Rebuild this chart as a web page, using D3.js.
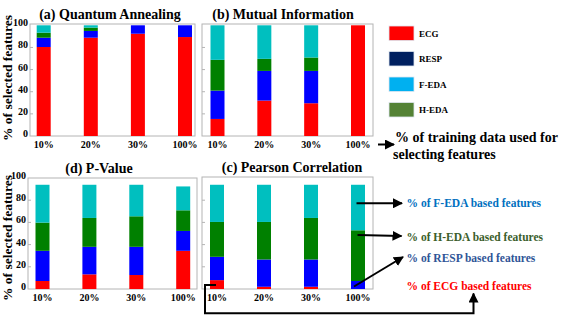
<!DOCTYPE html>
<html>
<head>
<meta charset="utf-8">
<script src="https://cdn.jsdelivr.net/npm/d3@7"></script>
<style>
  body { margin: 0; background: #fff; }
  svg { display: block; font-family: "Liberation Serif", "Times New Roman", serif; font-weight: bold; }
</style>
</head>
<body>
<div id="chart"></div>
<script>
// training data fractions (x categories)
const categories = ["10%", "20%", "30%", "100%"];
const yTicks = [0, 20, 40, 60, 80, 100];

// series order, bottom to top of each stack
const seriesNames = ["ECG", "RESP", "H-EDA", "F-EDA"];

// (a) Quantum Annealing
const qaECG  = [80.4, 88.8, 92.4, 89.4];
const qaRESP = [8.4, 6.1, 7.6, 10.6];
const qaHEDA = [4.5, 3.0, 0, 0];
const qaFEDA = [6.7, 2.1, 0, 0];

// (b) Mutual Information
const miECG  = [15.4, 32.0, 29.6, 100];
const miRESP = [25.6, 26.8, 29.2, 0];
const miHEDA = [27.8, 10.9, 12.1, 0];
const miFEDA = [31.2, 30.3, 29.1, 0];

// (d) P-Value
const pvECG  = [7.2, 13.2, 12.6, 34.4];
const pvRESP = [27.2, 24.8, 25.4, 17.9];
const pvHEDA = [25.4, 26.0, 27.5, 18.6];
const pvFEDA = [34.1, 29.9, 28.4, 21.5];

// (c) Pearson Correlation
const pcECG  = [8.0, 2.0, 2.0, 0];
const pcRESP = [21.0, 24.6, 24.6, 7.2];
const pcHEDA = [31.4, 33.8, 37.4, 45.7];
const pcFEDA = [33.5, 33.5, 29.9, 41.0];

// legend
const legendNames = ["ECG", "RESP", "F-EDA", "H-EDA"];
const legendColors = ["#ff0000", "#002060", "#00b0f0", "#548235"];

// bar colours (same order as seriesNames)
const barColors = ["#ff0000", "#0000ff", "#008000", "#00bfbf"];

function makeRows(ecg, resp, heda, feda) {
  return categories.map((c, i) => ({cat: c, "ECG": ecg[i], "RESP": resp[i], "H-EDA": heda[i], "F-EDA": feda[i]}));
}

// panel layout: frame box, first/last bar centre, axis labels on/off
const panels = [
  {title: "(a) Quantum Annealing", rows: makeRows(qaECG, qaRESP, qaHEDA, qaFEDA),
   x0: 30, x1: 195, y0: 24, y1: 136, yTop: 25.3, c0: 43.7, c1: 185, tx: 110, ty: 78, labels: true},
  {title: "(b) Mutual Information", rows: makeRows(miECG, miRESP, miHEDA, miFEDA),
   x0: 202, x1: 373, y0: 24, y1: 136, yTop: 25.3, c0: 217.5, c1: 358, tx: 283, labels: false},
  {title: "(d) P-Value", rows: makeRows(pvECG, pvRESP, pvHEDA, pvFEDA),
   x0: 28, x1: 197, y0: 178, y1: 289, yTop: 178, c0: 42.5, c1: 183.2, tx: 99, ty: 238, labels: true},
  {title: "(c) Pearson Correlation", rows: makeRows(pcECG, pcRESP, pcHEDA, pcFEDA),
   x0: 202, x1: 373, y0: 177, y1: 289, yTop: 178, c0: 217, c1: 358, tx: 292, labels: false}
];

const W = 561, H = 315;
const svg = d3.select("#chart").append("svg")
  .attr("width", W).attr("height", H);

// arrow marker
svg.append("defs").append("marker")
  .attr("id", "arr")
  .attr("viewBox", "0 0 10 10")
  .attr("refX", 9).attr("refY", 5)
  .attr("markerWidth", 5).attr("markerHeight", 5)
  .attr("orient", "auto-start-reverse")
  .append("path").attr("d", "M0,0L10,5L0,10z").attr("fill", "#000");

const stack = d3.stack().keys(seriesNames);

panels.forEach(p => {
  const x = d3.scalePoint().domain(categories).range([p.c0, p.c1]);
  const y = d3.scaleLinear().domain([0, 100]).range([p.y1, p.yTop]);
  const g = svg.append("g");

  // frame
  g.append("rect")
    .attr("x", p.x0).attr("y", p.y0)
    .attr("width", p.x1 - p.x0).attr("height", p.y1 - p.y0)
    .attr("fill", "none").attr("stroke", "#b4b4b4").attr("stroke-width", 1);

  // small inner ticks
  g.selectAll(".tk").data(yTicks.slice(1, -1)).enter().append("line")
    .attr("x1", p.x0).attr("x2", p.x0 + 3)
    .attr("y1", d => y(d)).attr("y2", d => y(d))
    .attr("stroke", "#b4b4b4");

  // stacked bars
  const layers = stack(p.rows);
  layers.forEach((layer, li) => {
    g.selectAll(".b" + li).data(layer).enter().append("rect")
      .attr("x", d => x(d.data.cat) - 7)
      .attr("width", 14)
      .attr("y", d => y(d[1]))
      .attr("height", d => Math.max(0, y(d[0]) - y(d[1])))
      .attr("fill", barColors[li]);
  });

  // title
  g.append("text")
    .attr("x", p.tx).attr("y", p.y0 - 5)
    .attr("text-anchor", "middle")
    .attr("font-size", 14)
    .text(p.title);

  // x tick labels
  g.selectAll(".xl").data(categories).enter().append("text")
    .attr("x", d => x(d)).attr("y", p.y1 + 12)
    .attr("text-anchor", "middle")
    .attr("font-size", 10)
    .text(d => d);

  if (p.labels) {
    g.selectAll(".yl").data(yTicks).enter().append("text")
      .attr("x", p.x0 - 2).attr("y", d => y(d) + 1)
      .attr("text-anchor", "end")
      .attr("font-size", 10)
      .text(d => d);

    g.append("text")
      .attr("transform", "translate(12," + p.ty + ") rotate(-90)")
      .attr("text-anchor", "middle")
      .attr("font-size", 13.5)
      .text("% of selected features");
  }
});

// legend
const lg = svg.append("g");
legendNames.forEach((n, i) => {
  lg.append("rect")
    .attr("x", 389).attr("y", 26 + i * 25.5)
    .attr("width", 25).attr("height", 14.5)
    .attr("fill", legendColors[i])
    .attr("stroke", "#dfe7ef").attr("stroke-width", 0.8);
  lg.append("text")
    .attr("x", 419).attr("y", 36.5 + i * 25.5)
    .attr("font-size", 9)
    .text(n);
});

// x axis explanation
svg.append("line")
  .attr("x1", 378).attr("y1", 144.5).attr("x2", 394).attr("y2", 144.5)
  .attr("stroke", "#000").attr("stroke-width", 2).attr("marker-end", "url(#arr)");
svg.append("text").attr("x", 395).attr("y", 142).attr("font-size", 14)
  .text("% of training data used for");
svg.append("text").attr("x", 393).attr("y", 159).attr("font-size", 14)
  .text("selecting features");

// feature annotations
const notes = [
  {t: "% of F-EDA based features", c: "#0070c0", y: 207},
  {t: "% of H-EDA based features", c: "#3b5e2b", y: 240.5},
  {t: "% of RESP based features", c: "#2f5597", y: 261.5},
  {t: "% of ECG based features", c: "#ff0000", y: 290}
];
notes.forEach(n => {
  svg.append("text").attr("x", 406.5).attr("y", n.y)
    .attr("font-size", 11.5).attr("fill", n.c).text(n.t);
});

const arrowLines = [
  [[356.5, 203.3], [402, 203.3]],
  [[357.5, 235], [401.5, 236]],
  [[354, 286.5], [403, 257]],
  [[216, 285], [205, 285], [205, 313.3], [473.5, 313.3], [473.5, 293.5]]
];
arrowLines.forEach(pts => {
  svg.append("path")
    .attr("d", d3.line()(pts))
    .attr("fill", "none").attr("stroke", "#000").attr("stroke-width", 2)
    .attr("marker-end", "url(#arr)");
});
</script>
</body>
</html>
